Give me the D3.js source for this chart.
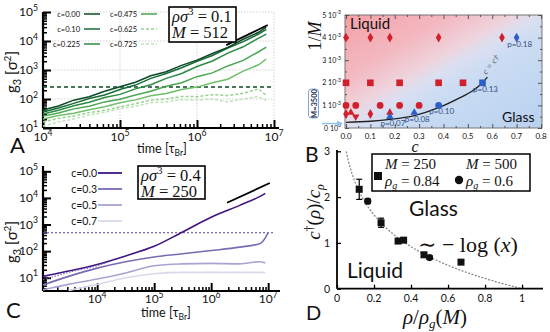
<!DOCTYPE html>
<html>
<head>
<meta charset="utf-8">
<script src="https://cdn.jsdelivr.net/npm/d3@7"></script>
<style>
  body { margin: 0; background: #fff; }
  svg { display: block; }
  text { font-family: Lato, "Open Sans", sans-serif; fill: #111; }
</style>
</head>
<body>
<svg id="fig" width="550" height="332"></svg>
<script>
// ---------------- data: panel A (rho sigma^3 = 0.1, M = 512) ----------------
// log10 of time and log10 of g3
const logTimeA = [4, 4.2, 4.4, 4.6, 4.8, 5, 5.2, 5.4, 5.6, 5.8, 6, 6.2, 6.4, 6.6, 6.8, 6.9]
const logG_c000 = [1.62, 1.76, 1.96, 2.08, 2.27, 2.42, 2.58, 2.8, 2.94, 3.16, 3.34, 3.57, 3.78, 4.06, 4.3, 4.48]
const logG_c010 = [1.55, 1.69, 1.85, 2.02, 2.14, 2.33, 2.48, 2.71, 2.88, 3.08, 3.3, 3.5, 3.76, 3.98, 4.24, 4.4]
const logG_c0225 = [1.48, 1.61, 1.77, 1.89, 2.05, 2.16, 2.35, 2.49, 2.71, 2.88, 3.12, 3.31, 3.58, 3.8, 4.1, 4.24]
const logG_c0475 = [1.41, 1.52, 1.66, 1.75, 1.9, 1.99, 2.14, 2.27, 2.44, 2.56, 2.77, 2.9, 3.14, 3.33, 3.63, 3.79]
const logG_cMid = [1.31, 1.43, 1.51, 1.63, 1.73, 1.87, 1.97, 2.11, 2.19, 2.33, 2.41, 2.56, 2.68, 2.96, 3.18, 3.38]
const logG_c0625 = [1.21, 1.33, 1.41, 1.53, 1.61, 1.73, 1.84, 1.96, 2.0, 2.09, 2.08, 2.15, 2.12, 2.2, 2.35, 2.12]
const logG_c0725 = [1.07, 1.21, 1.31, 1.45, 1.54, 1.67, 1.75, 1.87, 1.9, 1.98, 1.96, 2.0, 1.9, 2.0, 2.08, 1.95]
const plateauA = 257
const slopeLineA = [[2.4e6, 7.2e3], [8.3e6, 3.55e4]]
const xTicksA = [1e4, 1e5, 1e6, 1e7]
const yTicksA = [1e1, 1e2, 1e3, 1e4, 1e5]

// ---------------- data: panel B (phase diagram) ----------------
const rowsB = [4e-3, 2e-3, 1e-3, 0.62e-3]
const liquidDiamondC = [0.0, 0.1, 0.18, 0.38, 0.64]
const liquidSquareC = [0.0, 0.1, 0.22, 0.38, 0.48]
const liquidCircleC = [0.0, 0.04, 0.14, 0.22, 0.30]
const liquidLowDiamondC = [0.0, 0.1]
const liquidLowTriUp = [[0.02, 0.68e-3], [0.18, 0.68e-3]]
const liquidLowTriDown = [[0.04, 0.5e-3]]
const glassPoints = [
  { c: 0.70, m: 4e-3, shape: 'diamond', p: 'p=0.18' },
  { c: 0.56, m: 2e-3, shape: 'square', p: 'p=0.13' },
  { c: 0.38, m: 1e-3, shape: 'circle', p: 'p=0.10' },
  { c: 0.28, m: 0.68e-3, shape: 'triangle', p: 'p=0.08' },
  { c: 0.18, m: 0.5e-3, shape: 'triangle', p: 'p=0.07' }
]
const boundaryC = [0, 0.1, 0.18, 0.28, 0.38, 0.46, 0.52, 0.56, 0.58]
const boundaryM = [0.25e-3, 0.3e-3, 0.38e-3, 0.55e-3, 0.9e-3, 1.3e-3, 1.65e-3, 2.0e-3, 2.25e-3]
const xTicksB = [0, 0.1, 0.2, 0.3, 0.4, 0.5, 0.6, 0.7, 0.8]
const yTicksB = [0, 1e-3, 2e-3, 3e-3, 4e-3, 5e-3]
const yTickTextB = [['0', '0'], ['1', '-3'], ['2', '-3'], ['3', '-3'], ['4', '-3'], ['5', '-3']]

// ---------------- data: panel C (rho sigma^3 = 0.4, M = 250) ----------------
const logTimeC = [3.05, 3.5, 4, 4.5, 5, 5.5, 6, 6.5, 6.85, 6.95, 7.0]
const logG_C00 = [1.05, 1.25, 1.5, 1.82, 2.18, 2.72, 3.27, 3.72, 4.05, 4.17, null]
const logG_C03 = [0.73, 1.05, 1.36, 1.6, 1.78, 1.9, 2.02, 2.15, 2.28, 2.5, 2.7]
const logG_C05 = [0.55, 0.75, 0.95, 1.18, 1.45, 1.52, 1.54, 1.52, 1.6, 1.55, null]
const logG_C07 = [null, 0.52, 0.75, 1.0, 1.15, 1.2, 1.2, 1.2, 1.2, 1.19, null]
const fitTimeC = [3.05, 3.5, 4, 4.28]
const fitLogGC = [0.92, 1.2, 1.45, 1.65]
const plateauC = 490
const slopeLineC = [[1.9e6, 6.6e3], [1.07e7, 3.63e4]]
const xTicksC = [1e4, 1e5, 1e6, 1e7]
const yTicksC = [1e1, 1e2, 1e3, 1e4, 1e5]

// ---------------- data: panel D ----------------
const rhoM250 = [0.12, 0.238, 0.33, 0.36, 0.47, 0.67]
const cM250 = [2.17, 1.44, 1.04, 1.06, 0.74, 0.58]
const errM250 = [0.22, 0.1, 0.04, 0.04, 0.04, 0.05]
const rhoM500 = [0.166, 0.5]
const cM500 = [1.91, 0.68]
const errM500 = [0.05, 0.04]
const xTicksD = [0, 0.2, 0.4, 0.6, 0.8, 1]
const yTicksD = [0, 1, 2, 3]

// ---------------- helpers ----------------
const svg = d3.select('#fig')
const SERIF = '"Liberation Serif", "DejaVu Serif", serif'
const defs = svg.append('defs')

const minorLog = (lo, hi) => {
  const out = []
  for (let e = lo; e < hi; e++) for (let k = 2; k < 10; k++) out.push(k * Math.pow(10, e))
  return out
}

const powLabel = (g, x, y, base, exp, anchor, size) => {
  const t = g.append('text').attr('x', x).attr('y', y)
    .attr('text-anchor', anchor).style('font-size', size + 'px')
  t.append('tspan').text(base)
  t.append('tspan').attr('dy', -size * 0.45).style('font-size', (size * 0.72) + 'px').text(exp)
  return t
}

const styleAxis = (g, w) => {
  g.selectAll('.domain').remove()
  g.selectAll('line').attr('stroke', '#000').attr('stroke-width', w)
}

const gLabel = (x, y) => {
  const t = svg.append('text').attr('transform', `translate(${x},${y}) rotate(-90)`)
    .attr('text-anchor', 'middle').style('font-size', '15px')
  t.append('tspan').text('g')
  t.append('tspan').attr('dy', 4).style('font-size', '11px').text('3')
  t.append('tspan').attr('dy', -4).text(' [σ')
  t.append('tspan').attr('dy', -6).style('font-size', '10px').text('2')
  t.append('tspan').attr('dy', 6).text(']')
}

const timeLabel = (x, y) => {
  const t = svg.append('text').attr('x', x).attr('y', y).attr('text-anchor', 'middle').style('font-size', '12.5px')
  t.append('tspan').text('time [τ')
  t.append('tspan').attr('dy', 3).style('font-size', '8.5px').text('Br')
  t.append('tspan').attr('dy', -3).text(']')
}

const mathBox = (x, y, w, h, rhoVal, mVal) => {
  svg.append('rect').attr('x', x).attr('y', y).attr('width', w).attr('height', h)
    .attr('fill', '#fff').attr('stroke', '#000').attr('stroke-width', 1.6)
  const t1 = svg.append('text').attr('x', x + 3).attr('y', y + 15)
    .style('font-family', SERIF).style('font-size', '16.5px')
  t1.append('tspan').style('font-style', 'italic').text('ρσ')
  t1.append('tspan').attr('dy', -7).style('font-size', '11px').text('3')
  t1.append('tspan').attr('dy', 7).text(' = ' + rhoVal)
  const t2 = svg.append('text').attr('x', x + 3).attr('y', y + 31)
    .style('font-family', SERIF).style('font-size', '16.5px')
  t2.append('tspan').style('font-style', 'italic').text('M')
  t2.append('tspan').text(' = ' + mVal)
}

// log-log time panel (A and C share the layout)
const timePanel = (cfg) => {
  const { x, y, xTicks, yTicks } = cfg
  const [x0, x1] = x.range()
  const [y0, y1] = y.range()
  const lx = Math.log10(x.domain()[0]), hx = Math.log10(x.domain()[1])
  const ly = Math.log10(y.domain()[0]), hy = Math.log10(y.domain()[1])

  if (cfg.grid) {
    const grid = svg.append('g').attr('stroke', '#c8c8c8').attr('stroke-width', 0.8).attr('stroke-dasharray', '1.5,1.5')
    grid.selectAll('.gy').data(yTicks.slice(1)).join('line')
      .attr('x1', x0).attr('x2', x1).attr('y1', d => y(d)).attr('y2', d => y(d))
    grid.selectAll('.gx').data(xTicks.slice(1)).join('line')
      .attr('x1', d => x(d)).attr('x2', d => x(d)).attr('y1', y0).attr('y2', y1)
  }

  const minX = minorLog(Math.floor(lx), Math.ceil(hx)).filter(d => d >= x.domain()[0] && d <= x.domain()[1])
  const minY = minorLog(Math.floor(ly), Math.ceil(hy)).filter(d => d >= y.domain()[0] && d <= y.domain()[1])

  const axX = svg.append('g').attr('transform', `translate(0,${y0})`)
  axX.append('g').call(d3.axisTop(x).tickValues(minX).tickSize(4).tickFormat('')).call(g => styleAxis(g, 1.5))
  axX.append('g').call(d3.axisTop(x).tickValues(xTicks).tickSize(8).tickFormat('')).call(g => styleAxis(g, 2))
  const axY = svg.append('g').attr('transform', `translate(${x0},0)`)
  axY.append('g').call(d3.axisRight(y).tickValues(minY).tickSize(4).tickFormat('')).call(g => styleAxis(g, 1.5))
  axY.append('g').call(d3.axisRight(y).tickValues(yTicks).tickSize(8).tickFormat('')).call(g => styleAxis(g, 2))
  svg.append('line').attr('x1', x0).attr('x2', x1 + 5).attr('y1', y0).attr('y2', y0).attr('stroke', '#000').attr('stroke-width', 2.2)
  svg.append('line').attr('x1', x0).attr('x2', x0).attr('y1', y0).attr('y2', y1).attr('stroke', '#000').attr('stroke-width', 2.2)

  xTicks.forEach(d => powLabel(svg, x(d), cfg.xLabelY, '10', String(Math.round(Math.log10(d))), 'middle', 12))
  yTicks.forEach(d => powLabel(svg, x0 - 5, y(d) + 4, '10', String(Math.round(Math.log10(d))), 'end', 12))
}

// ================= panel A =================
const xA = d3.scaleLog().domain([1e4, 1e7]).range([43, 274])
const yA = d3.scaleLog().domain([1e1, 1e5]).range([128, 12])
timePanel({ x: xA, y: yA, xTicks: xTicksA, yTicks: yTicksA, xLabelY: 141, grid: true })

const seriesA = [
  { label: 'c=0.00', vals: logG_c000, color: '#0b4a26', dash: null, col: 0, row: 0 },
  { label: 'c=0.10', vals: logG_c010, color: '#176b36', dash: null, col: 0, row: 1 },
  { label: 'c=0.225', vals: logG_c0225, color: '#2c8b45', dash: null, col: 0, row: 2 },
  { label: 'c=0.475', vals: logG_c0475, color: '#4aa652', dash: null, col: 1, row: 0 },
  { label: null, vals: logG_cMid, color: '#6fbf6b', dash: null },
  { label: 'c=0.625', vals: logG_c0625, color: '#98d290', dash: '3,2', col: 1, row: 1 },
  { label: 'c=0.725', vals: logG_c0725, color: '#bfe3b6', dash: '3,2', col: 1, row: 2 }
]
const lineA = d3.line()
  .x((d, i) => xA(Math.pow(10, logTimeA[i])))
  .y(d => yA(Math.pow(10, d)))

svg.append('line').attr('x1', xA(1e4)).attr('x2', 274).attr('y1', yA(plateauA)).attr('y2', yA(plateauA))
  .attr('stroke', '#0b4a26').attr('stroke-width', 1.5).attr('stroke-dasharray', '4,3')

svg.append('g').selectAll('path').data(seriesA.slice().reverse()).join('path')
  .attr('d', s => lineA(s.vals))
  .attr('fill', 'none').attr('stroke', s => s.color).attr('stroke-width', 1.5)
  .attr('stroke-dasharray', s => s.dash)

svg.append('line')
  .attr('x1', xA(slopeLineA[0][0])).attr('y1', yA(slopeLineA[0][1]))
  .attr('x2', xA(slopeLineA[1][0])).attr('y2', yA(slopeLineA[1][1]))
  .attr('stroke', '#000').attr('stroke-width', 1.8)

// legend A
const legA = svg.append('g').style('font-size', '7.5px')
seriesA.filter(s => s.label).forEach(s => {
  const tx = s.col === 0 ? 80 : 137
  const ly = 14 + s.row * 15
  legA.append('text').attr('x', tx).attr('y', ly + 2.5).attr('text-anchor', 'end').text(s.label)
  legA.append('line').attr('x1', tx + 4).attr('x2', tx + 20).attr('y1', ly).attr('y2', ly)
    .attr('stroke', s.color).attr('stroke-width', 1.5).attr('stroke-dasharray', s.dash)
})

mathBox(169, 7, 67, 35, '0.1', '512')
gLabel(17, 72)
timeLabel(162, 153)
svg.append('text').attr('x', 10).attr('y', 153).style('font-size', '22px').text('A')

// ================= panel B =================
const xB = d3.scaleLinear().domain([0, 0.8]).range([346, 541])
const yB = d3.scaleLinear().domain([0, 0.005]).range([128, 15])

const grad = defs.append('linearGradient').attr('id', 'bgB').attr('gradientUnits', 'userSpaceOnUse')
  .attr('x1', 390).attr('y1', -18).attr('x2', 490).attr('y2', 154)
grad.selectAll('stop').data([
  [0, '#f59ea4'], [0.3, '#f3b8c0'], [0.45, '#efd3dc'], [0.52, '#dcdff0'], [0.62, '#cbdcf3'], [1, '#b9d2f0']
]).join('stop').attr('offset', d => d[0]).attr('stop-color', d => d[1])

svg.append('rect').attr('x', 345).attr('y', 15).attr('width', 197).attr('height', 113)
  .attr('fill', 'url(#bgB)').attr('stroke', '#777').attr('stroke-width', 1)

const tickB = (axis, tr, vals, size) => svg.append('g').attr('transform', tr)
  .call(axis.tickValues(vals).tickSize(size).tickFormat(''))
  .call(g => { g.selectAll('.domain').remove(); g.selectAll('line').attr('stroke', '#555') })
const minorXB = d3.range(0.05, 0.8, 0.1)
const minorYB = d3.range(0.5e-3, 5e-3, 1e-3)
tickB(d3.axisTop(xB), 'translate(0,128)', xTicksB, 4)
tickB(d3.axisTop(xB), 'translate(0,128)', minorXB, 2)
tickB(d3.axisBottom(xB), 'translate(0,15)', xTicksB, 4)
tickB(d3.axisBottom(xB), 'translate(0,15)', minorXB, 2)
tickB(d3.axisRight(yB), 'translate(345,0)', yTicksB, 4)
tickB(d3.axisRight(yB), 'translate(345,0)', minorYB, 2)
tickB(d3.axisLeft(yB), 'translate(542,0)', yTicksB, 4)
tickB(d3.axisLeft(yB), 'translate(542,0)', minorYB, 2)

xTicksB.forEach(d => svg.append('text').attr('x', xB(d)).attr('y', 139).attr('text-anchor', 'middle')
  .style('font-size', '8px').text(d.toFixed(1)))
yTicksB.forEach((d, i) => powLabel(svg, 341, yB(d) + 2.5, yTickTextB[i][0] + ' 10', yTickTextB[i][1], 'end', 7))

// boundary curve
const boundary = boundaryC.map((c, i) => [c, boundaryM[i]])
svg.append('path').attr('d', d3.line().x(d => xB(d[0])).y(d => yB(d[1])).curve(d3.curveMonotoneX)(boundary))
  .attr('fill', 'none').attr('stroke', '#222').attr('stroke-width', 1.4)
svg.append('text').attr('transform', `translate(${xB(0.575)},${yB(2.35e-3)}) rotate(-52)`)
  .style('font-family', SERIF).style('font-style', 'italic').style('font-size', '8.5px').style('fill', '#555')
  .text('c = c†')

const RED = '#d11f2c', BLUE = '#2e5fc6'
const sym = (type, size) => d3.symbol().type(type).size(size)()
const drawSym = (pts, type, size, color) => svg.append('g').selectAll('path').data(pts).join('path')
  .attr('transform', d => `translate(${xB(d[0])},${yB(d[1])})`)
  .attr('d', sym(type, size)).attr('fill', color)

drawSym(liquidDiamondC.map(c => [c, rowsB[0]]), d3.symbolDiamond, 28, RED)
drawSym(liquidSquareC.map(c => [c, rowsB[1]]), d3.symbolSquare, 44, RED)
drawSym(liquidCircleC.map(c => [c, rowsB[2]]), d3.symbolCircle, 36, RED)
drawSym(liquidLowDiamondC.map(c => [c, rowsB[3]]), d3.symbolDiamond, 28, RED)
drawSym(liquidLowTriUp, d3.symbolTriangle, 24, RED)
svg.append('g').selectAll('path').data(liquidLowTriDown).join('path')
  .attr('transform', d => `translate(${xB(d[0])},${yB(d[1])}) rotate(180)`)
  .attr('d', sym(d3.symbolTriangle, 24)).attr('fill', RED)

const shapes = { diamond: [d3.symbolDiamond, 28], square: [d3.symbolSquare, 44], circle: [d3.symbolCircle, 36], triangle: [d3.symbolTriangle, 26] }
glassPoints.forEach(p => {
  const [t, s] = shapes[p.shape]
  svg.append('path').attr('transform', `translate(${xB(p.c)},${yB(p.m)})`).attr('d', sym(t, s)).attr('fill', BLUE)
  svg.append('text').attr('x', xB(p.c) + 3).attr('y', yB(p.m) + 9)
    .attr('text-anchor', 'middle').style('font-size', '8px').style('fill', '#2f4f86').text(p.p)
})

svg.append('text').attr('x', 350).attr('y', 29).style('font-size', '15px').text('Liquid')
svg.append('text').attr('x', 502).attr('y', 122).style('font-size', '14px').text('Glass')

// M=3500 badge and arrow
svg.append('rect').attr('x', 308.5).attr('y', 89).attr('width', 10).attr('height', 29).attr('rx', 3)
  .attr('fill', '#fff').attr('stroke', '#7fa8d0').attr('stroke-width', 1)
svg.append('text').attr('transform', 'translate(316.5,103.5) rotate(-90)').attr('text-anchor', 'middle')
  .style('font-size', '7.5px').style('font-weight', 'bold').style('fill', '#1f2f55').text('M=3500')
svg.append('line').attr('x1', 322).attr('x2', 338).attr('y1', yB(1 / 3500) + 2).attr('y2', yB(1 / 3500) + 2)
  .attr('stroke', '#8fc2ea').attr('stroke-width', 1.5)
svg.append('path').attr('d', `M343,${yB(1 / 3500) + 2} l-6,-3 l0,6 z`).attr('fill', '#8fc2ea')

svg.append('text').attr('transform', 'translate(321,36) rotate(-90)').attr('text-anchor', 'middle')
  .style('font-family', SERIF).style('font-size', '18px')
  .call(t => { t.append('tspan').text('1/'); t.append('tspan').style('font-style', 'italic').text('M') })
svg.append('text').attr('x', 415).attr('y', 152).attr('text-anchor', 'middle')
  .style('font-family', SERIF).style('font-style', 'italic').style('font-size', '16px').text('c')
svg.append('text').attr('x', 305).attr('y', 162).style('font-size', '21px').text('B')

// ================= panel C =================
const xC = d3.scaleLog().domain([Math.pow(10, 3.05), Math.pow(10, 7.12)]).range([43, 275])
const yC = d3.scaleLog().domain([Math.pow(10, 0.5), Math.pow(10, 5.2)]).range([291, 166])
timePanel({ x: xC, y: yC, xTicks: xTicksC, yTicks: yTicksC, xLabelY: 303, grid: false })

const seriesC = [
  { label: 'c=0.0', vals: logG_C00, color: '#3e1480' },
  { label: 'c=0.3', vals: logG_C03, color: '#7a6ab4' },
  { label: 'c=0.5', vals: logG_C05, color: '#aaa3d2' },
  { label: 'c=0.7', vals: logG_C07, color: '#dcd8ec' }
]
const lineC = d3.line()
  .defined(d => d !== null)
  .x((d, i) => xC(Math.pow(10, logTimeC[i])))
  .y(d => yC(Math.pow(10, d)))
  .curve(d3.curveMonotoneX)

svg.append('line').attr('x1', 43).attr('x2', 275).attr('y1', yC(plateauC)).attr('y2', yC(plateauC))
  .attr('stroke', '#5a3f9e').attr('stroke-width', 1.1).attr('stroke-dasharray', '2,2')

svg.append('g').selectAll('path').data(seriesC.slice().reverse()).join('path')
  .attr('d', s => lineC(s.vals))
  .attr('fill', 'none').attr('stroke', s => s.color).attr('stroke-width', 1.6)

svg.append('path')
  .attr('d', d3.line().x((d, i) => xC(Math.pow(10, fitTimeC[i]))).y(d => yC(Math.pow(10, d))).curve(d3.curveMonotoneX)(fitLogGC))
  .attr('fill', 'none').attr('stroke', '#7a6ab4').attr('stroke-width', 1.1).attr('stroke-dasharray', '1.5,1.5')

svg.append('line')
  .attr('x1', xC(slopeLineC[0][0])).attr('y1', yC(slopeLineC[0][1]))
  .attr('x2', xC(slopeLineC[1][0])).attr('y2', yC(slopeLineC[1][1]))
  .attr('stroke', '#000').attr('stroke-width', 1.8)

seriesC.forEach((s, i) => {
  const ly = 173 + i * 16
  svg.append('text').attr('x', 97).attr('y', ly + 3.5).attr('text-anchor', 'end').style('font-size', '10.5px').text(s.label)
  svg.append('line').attr('x1', 98).attr('x2', 122).attr('y1', ly).attr('y2', ly)
    .attr('stroke', s.color).attr('stroke-width', 1.8)
})

mathBox(138, 166, 67, 33, '0.4', '250')
gLabel(17, 242)
timeLabel(166, 317)
svg.append('text').attr('x', 6).attr('y', 318).style('font-size', '22px').text('C')

// ================= panel D =================
const xD = d3.scaleLinear().domain([0, 1.113]).range([337, 543])
const yD = d3.scaleLinear().domain([0, 3]).range([288.7, 151.3])

// fitted curve, the function named in the panel
svg.append('path')
  .attr('d', d3.line().x(d => xD(d)).y(d => yD(-Math.log(d)))(d3.range(0.05, 1.0001, 0.01)))
  .attr('fill', 'none').attr('stroke', '#8a8a8a').attr('stroke-width', 1.3).attr('stroke-dasharray', '2,1.5')

const axD = (axis, tr, vals) => svg.append('g').attr('transform', tr)
  .call(axis.tickValues(vals).tickSize(4).tickFormat(''))
  .call(g => styleAxis(g, 1.3))
axD(d3.axisTop(xD), 'translate(0,288.7)', xTicksD)
axD(d3.axisRight(yD), 'translate(337,0)', yTicksD)
svg.append('line').attr('x1', 337).attr('x2', 543).attr('y1', 288.7).attr('y2', 288.7).attr('stroke', '#000').attr('stroke-width', 1.8)
svg.append('line').attr('x1', 337).attr('x2', 337).attr('y1', 288.7).attr('y2', 150).attr('stroke', '#000').attr('stroke-width', 1.8)
xTicksD.forEach(d => svg.append('text').attr('x', xD(d)).attr('y', 302).attr('text-anchor', 'middle')
  .style('font-size', '10.5px').text(String(d)))
yTicksD.forEach(d => svg.append('text').attr('x', 330).attr('y', yD(d) + 4).attr('text-anchor', 'end')
  .style('font-size', '10.5px').text(String(d)))

const errBars = (xs, ys, es) => svg.append('g').attr('stroke', '#000').attr('stroke-width', 1.2)
  .selectAll('g').data(xs).join('g')
  .each(function (d, i) {
    const g = d3.select(this), cx = xD(d), top = yD(ys[i] + es[i]), bot = yD(ys[i] - es[i])
    g.append('line').attr('x1', cx).attr('x2', cx).attr('y1', top).attr('y2', bot)
    g.append('line').attr('x1', cx - 3).attr('x2', cx + 3).attr('y1', top).attr('y2', top)
    g.append('line').attr('x1', cx - 3).attr('x2', cx + 3).attr('y1', bot).attr('y2', bot)
  })
errBars(rhoM250, cM250, errM250)
errBars(rhoM500, cM500, errM500)
svg.append('g').selectAll('rect').data(rhoM250).join('rect')
  .attr('x', d => xD(d) - 3.5).attr('y', (d, i) => yD(cM250[i]) - 3.5).attr('width', 7).attr('height', 7).attr('fill', '#111')
svg.append('g').selectAll('circle').data(rhoM500).join('circle')
  .attr('cx', d => xD(d)).attr('cy', (d, i) => yD(cM500[i])).attr('r', 3.6).attr('fill', '#111')

// legend box D
svg.append('rect').attr('x', 372).attr('y', 154).attr('width', 158).attr('height', 37)
  .attr('fill', '#fff').attr('stroke', '#000').attr('stroke-width', 1.5)
svg.append('rect').attr('x', 374).attr('y', 172).attr('width', 8).attr('height', 8).attr('fill', '#111')
svg.append('circle').attr('cx', 459).attr('cy', 180).attr('r', 4.2).attr('fill', '#111')
const legD = (x, y, main, sub, val) => {
  const t = svg.append('text').attr('x', x).attr('y', y).style('font-family', SERIF).style('font-size', '15px')
  t.append('tspan').style('font-style', 'italic').text(main)
  if (sub) t.append('tspan').attr('dy', 3).style('font-size', '10px').style('font-style', 'italic').text(sub)
  t.append('tspan').attr('dy', sub ? -3 : 0).text(' = ' + val)
}
legD(385, 169, 'M', null, '250')
legD(385, 186, 'ρ', 'g', '0.84')
legD(466, 169, 'M', null, '500')
legD(466, 186, 'ρ', 'g', '0.6')

svg.append('text').attr('x', 409).attr('y', 216).style('font-size', '21px').text('Glass')
svg.append('text').attr('x', 347).attr('y', 278).style('font-size', '21px').text('Liquid')
svg.append('text').attr('x', 418).attr('y', 252).style('font-family', SERIF).style('font-size', '22px')
  .call(t => {
    t.append('tspan').text('∼ − log (')
    t.append('tspan').style('font-style', 'italic').text('x')
    t.append('tspan').text(')')
  })

svg.append('text').attr('transform', 'translate(320,212) rotate(-90)').attr('text-anchor', 'middle')
  .style('font-family', SERIF).style('font-size', '19px')
  .call(t => {
    t.append('tspan').style('font-style', 'italic').text('c')
    t.append('tspan').attr('dy', -7).style('font-size', '12px').text('†')
    t.append('tspan').attr('dy', 7).text('(')
    t.append('tspan').style('font-style', 'italic').text('ρ')
    t.append('tspan').text(')/')
    t.append('tspan').style('font-style', 'italic').text('c')
    t.append('tspan').attr('dy', 4).style('font-size', '12px').style('font-style', 'italic').text('ρ')
  })
svg.append('text').attr('x', 435).attr('y', 324).attr('text-anchor', 'middle')
  .style('font-family', SERIF).style('font-size', '21px')
  .call(t => {
    t.append('tspan').style('font-style', 'italic').text('ρ')
    t.append('tspan').text('/')
    t.append('tspan').style('font-style', 'italic').text('ρ')
    t.append('tspan').attr('dy', 4).style('font-size', '13px').style('font-style', 'italic').text('g')
    t.append('tspan').attr('dy', -4).text('(')
    t.append('tspan').style('font-style', 'italic').text('M')
    t.append('tspan').text(')')
  })
svg.append('text').attr('x', 306).attr('y', 320).style('font-size', '20px').text('D')
</script>
</body>
</html>
